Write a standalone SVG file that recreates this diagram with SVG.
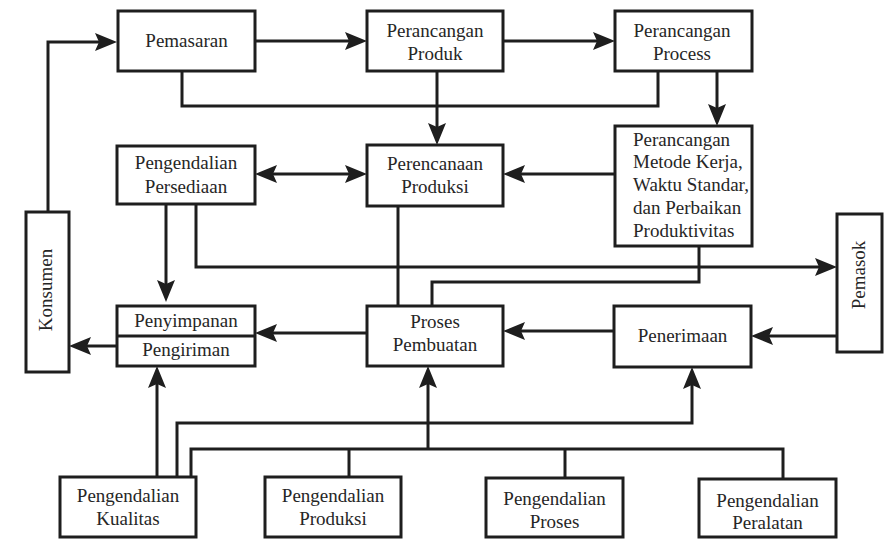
<svg xmlns="http://www.w3.org/2000/svg" width="885" height="539" viewBox="0 0 885 539">
<style>
.box{fill:#fff;stroke:#1e1e1e;stroke-width:3}
.ln{fill:none;stroke:#1e1e1e;stroke-width:3}
.arr{marker-end:url(#ah)}
.dbl{marker-start:url(#ah);marker-end:url(#ah)}
text{font-family:'Liberation Serif','Times New Roman','DejaVu Serif',serif;font-size:19px;fill:#262626}
.c{text-anchor:middle}
</style>
<defs>
<marker id="ah" viewBox="0 0 22 18" refX="10" refY="9" markerWidth="22" markerHeight="18" markerUnits="userSpaceOnUse" orient="auto-start-reverse">
<path d="M0,0 L22,9 L0,18 L4,9 Z" fill="#1e1e1e"/>
</marker>
</defs>
<rect width="885" height="539" fill="#fff"/>
<g id="connectors">
<path class="ln arr" d="M48,212 V42 H105"/>
<path class="ln arr" d="M255,41 H355"/>
<path class="ln arr" d="M503,41 H603"/>
<path class="ln" d="M182,71 V106 H658 V71"/>
<path class="ln arr" d="M437,71 V133"/>
<path class="ln arr" d="M717,71 V114"/>
<path class="ln dbl" d="M267,174 H355"/>
<path class="ln arr" d="M615,174 H515"/>
<path class="ln arr" d="M166,204 V290"/>
<path class="ln arr" d="M196,204 V267 H825"/>
<path class="ln" d="M398,206 V306"/>
<path class="ln" d="M699,246 V282 H432 V306"/>
<path class="ln arr" d="M367,333 H267"/>
<path class="ln arr" d="M614,331 H515"/>
<path class="ln arr" d="M837,336 H763"/>
<path class="ln arr" d="M117,346 H81"/>
<path class="ln arr" d="M157,477 V378"/>
<path class="ln arr" d="M177,477 V423 H692 V379"/>
<path class="ln" d="M191,477 V449 H783 V479"/>
<path class="ln arr" d="M428,449 V378"/>
<path class="ln" d="M349,449 V477"/>
<path class="ln" d="M565,449 V478"/>
</g>
<g id="pemasaran"><rect class="box" x="118" y="11" width="137" height="60"/><text class="c" x="186.5" y="47">Pemasaran</text></g>
<g id="perancangan-produk"><rect class="box" x="367" y="11" width="136" height="60"/><text class="c" x="435" y="37">Perancangan</text><text class="c" x="435" y="60">Produk</text></g>
<g id="perancangan-process"><rect class="box" x="615" y="11" width="137" height="60"/><text class="c" x="682" y="37">Perancangan</text><text class="c" x="682" y="60">Process</text></g>
<g id="pengendalian-persediaan"><rect class="box" x="117" y="146" width="138" height="58"/><text class="c" x="186" y="169">Pengendalian</text><text class="c" x="186" y="193">Persediaan</text></g>
<g id="perencanaan-produksi"><rect class="box" x="367" y="145" width="136" height="61"/><text class="c" x="435" y="170">Perencanaan</text><text class="c" x="435" y="193">Produksi</text></g>
<g id="perancangan-metode"><rect class="box" x="615" y="126" width="137" height="120"/>
<text x="633" y="146">Perancangan</text><text x="633" y="168">Metode Kerja,</text><text x="633" y="191">Waktu Standar,</text><text x="633" y="214">dan Perbaikan</text><text x="633" y="237">Produktivitas</text></g>
<g id="konsumen"><rect class="box" x="26" y="212" width="43" height="160"/><text class="c" x="52" y="290" transform="rotate(-90 52 290)">Konsumen</text></g>
<g id="pemasok"><rect class="box" x="837" y="214" width="45" height="138"/><text class="c" x="865" y="275" transform="rotate(-90 865 275)">Pemasok</text></g>
<g id="penyimpanan-pengiriman"><rect class="box" x="117" y="306" width="138" height="60"/><path class="ln" d="M117,336 H255"/><text class="c" x="186" y="327">Penyimpanan</text><text class="c" x="186" y="356">Pengiriman</text></g>
<g id="proses-pembuatan"><rect class="box" x="367" y="306" width="136" height="60"/><text class="c" x="435" y="328">Proses</text><text class="c" x="435" y="351">Pembuatan</text></g>
<g id="penerimaan"><rect class="box" x="614" y="306" width="137" height="61"/><text class="c" x="682.5" y="342">Penerimaan</text></g>
<g id="pengendalian-kualitas"><rect class="box" x="60" y="477" width="136" height="60"/><text class="c" x="128" y="502">Pengendalian</text><text class="c" x="128" y="525">Kualitas</text></g>
<g id="pengendalian-produksi"><rect class="box" x="265" y="477" width="136" height="60"/><text class="c" x="333" y="502">Pengendalian</text><text class="c" x="333" y="525">Produksi</text></g>
<g id="pengendalian-proses"><rect class="box" x="486" y="478" width="137" height="59"/><text class="c" x="554.5" y="505">Pengendalian</text><text class="c" x="554.5" y="528">Proses</text></g>
<g id="pengendalian-peralatan"><rect class="box" x="699" y="479" width="137" height="58"/><text class="c" x="767.5" y="507">Pengendalian</text><text class="c" x="767.5" y="529">Peralatan</text></g>
</svg>
